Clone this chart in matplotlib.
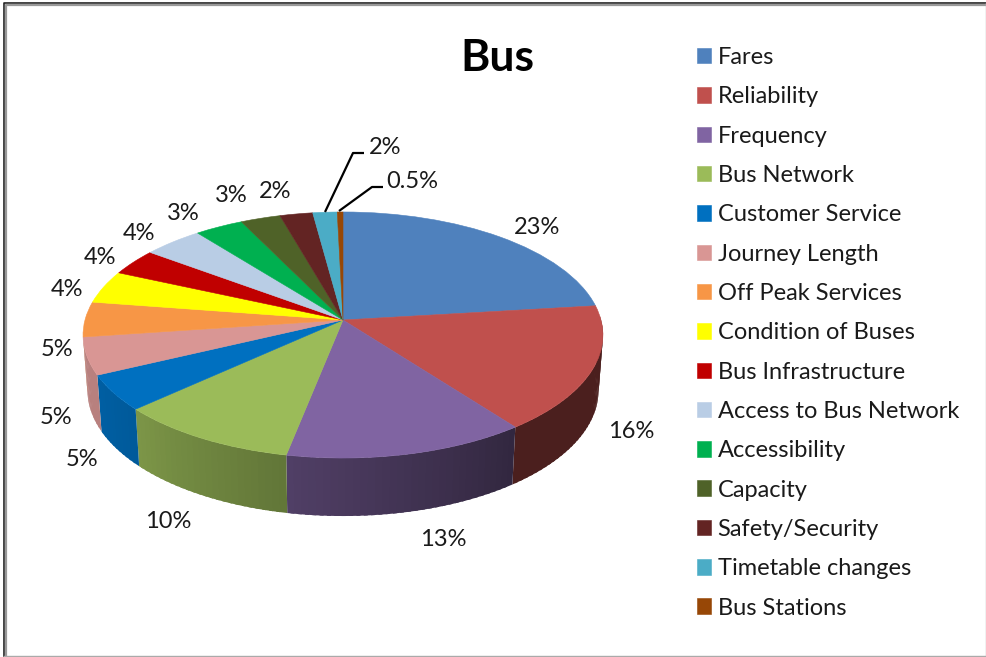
import numpy as np
import matplotlib
matplotlib.use("Agg")
import matplotlib.pyplot as plt
from matplotlib.collections import PolyCollection
from matplotlib.transforms import Transform

categories = ["Fares", "Reliability", "Frequency", "Bus Network", "Customer Service",
              "Journey Length", "Off Peak Services", "Condition of Buses", "Bus Infrastructure",
              "Access to Bus Network", "Accessibility", "Capacity", "Safety/Security",
              "Timetable changes", "Bus Stations"]
shares = [23.1, 16.6, 13.4, 10.1, 4.7, 4.9, 4.6, 4.3, 3.5, 4.2, 3.4, 2.8, 2.3, 1.7, 0.4]
share_labels = ["23%", "16%", "13%", "10%", "5%", "5%", "5%", "4%", "4%", "4%", "3%", "3%", "2%", "2%", "0.5%"]
colors = ["#4f81bd", "#c0504d", "#8064a2", "#9bbb59", "#0070c0", "#d99694", "#f79646", "#ffff00",
          "#c00000", "#b9cde5", "#00b050", "#4f6228", "#632423", "#4bacc6", "#974706"]

# label centres, in pixels of the original picture
label_x = [537, 631, 443, 168, 82, 56, 57, 67, 100, 139, 183, 231, 275, 385, 412]
label_y = [227, 432, 540, 521, 460, 417, 349, 289, 258, 233, 213, 195, 191, 147, 181]

FONT = "Lato"
CX, CY = 343, 320      # where the slices meet
A, B, K = 258, 121.2, 0.122


class Perspective(Transform):
    # tilts the flat unit pie into picture pixels
    input_dims = 2
    output_dims = 2
    is_separable = False

    def transform_non_affine(self, values):
        values = np.asarray(values, dtype=float)
        w = 1 + K * values[:, 1]
        return np.column_stack([CX + A * values[:, 0] / w, CY - B * values[:, 1] / w])

    def inverted(self):
        raise NotImplementedError


def side_shade(theta):
    # the rim gets darker towards the right
    return np.interp(theta, [143, 191, 227, 245], [0.39, 0.63, 0.80, 0.85])


fig = plt.figure(figsize=(9.87, 6.57), dpi=100)
ax = fig.add_axes([0, 0, 1, 1])

wedges, _ = ax.pie(shares, colors=colors, startangle=90, counterclock=False,
                   wedgeprops={"linewidth": 0.4, "zorder": 3})
persp = Perspective()
for w, c in zip(wedges, colors):
    w.set_transform(persp + ax.transData)
    w.set_edgecolor(c)

ax.set_aspect("auto")
ax.set_xlim(0, 987)
ax.set_ylim(657, 0)
ax.axis("off")

# rim of the pie, quads overlap a little so no seams show
edges = np.cumsum([0] + shares) / sum(shares) * 360
polys = []
poly_colors = []
for i, c in enumerate(colors):
    start, end = max(edges[i], 88), min(edges[i + 1], 263)
    if end <= start:
        continue
    thetas = np.linspace(start, end, int((end - start) / 1.5) + 2)
    rgb = np.array(matplotlib.colors.to_rgb(c))
    for t0, t1 in zip(thetas[:-1], thetas[1:]):
        quad = []
        t1b = min(t1 + 0.8, end)
        for t, bottom in [(t0, False), (t1b, False), (t1b, True), (t0, True)]:
            ux, uy = np.sin(np.radians(t)), np.cos(np.radians(t))
            px, py = persp.transform_non_affine(np.array([[ux, uy]]))[0]
            if bottom:
                px = CX + (px - CX) * 0.983
                py = py + 55 - 3 * uy
            quad.append((px, py))
        polys.append(quad)
        poly_colors.append(rgb * side_shade((t0 + t1) / 2))
ax.add_collection(PolyCollection(polys, facecolors=poly_colors, edgecolors="none",
                                 linewidths=0, zorder=2))

for txt, x, y in zip(share_labels, label_x, label_y):
    ax.text(x, y, txt, ha="center", va="center", fontsize=17, family=FONT, color="#1a1a1a")

# leader lines for the two small slices
ax.plot([364, 353, 325], [153, 153, 212], color="black", lw=1.6, zorder=4, solid_capstyle="butt")
ax.plot([383, 372, 339], [187, 187, 211], color="black", lw=1.6, zorder=4, solid_capstyle="butt")

ax.text(497, 58, "Bus", ha="center", va="center", fontsize=32, fontweight="bold", family=FONT, color="black")

leg = ax.legend(wedges, categories, loc="upper left", bbox_to_anchor=(696.5, 47),
                bbox_transform=ax.transData, frameon=False,
                prop={"family": FONT, "size": 17}, labelspacing=0.776, handlelength=0.635,
                handleheight=0.635, handletextpad=0.26, borderpad=0, borderaxespad=0)
for t in leg.get_texts():
    t.set_color("#1a1a1a")

# window frame around the screenshot
ax.plot([3.5, 3.5, 986], [656, 3, 3], color="#222222", lw=1.2, zorder=5)
ax.plot([5.5, 5.5, 986], [656, 5, 5], color="#999999", lw=1.6, zorder=5)
ax.plot([986, 986], [3, 656], color="#bbbbbb", lw=1, zorder=5)
ax.plot([3.5, 986], [655.5, 655.5], color="#aaaaaa", lw=1, zorder=5)

fig.savefig("out.png", dpi=100)
plt.close(fig)
